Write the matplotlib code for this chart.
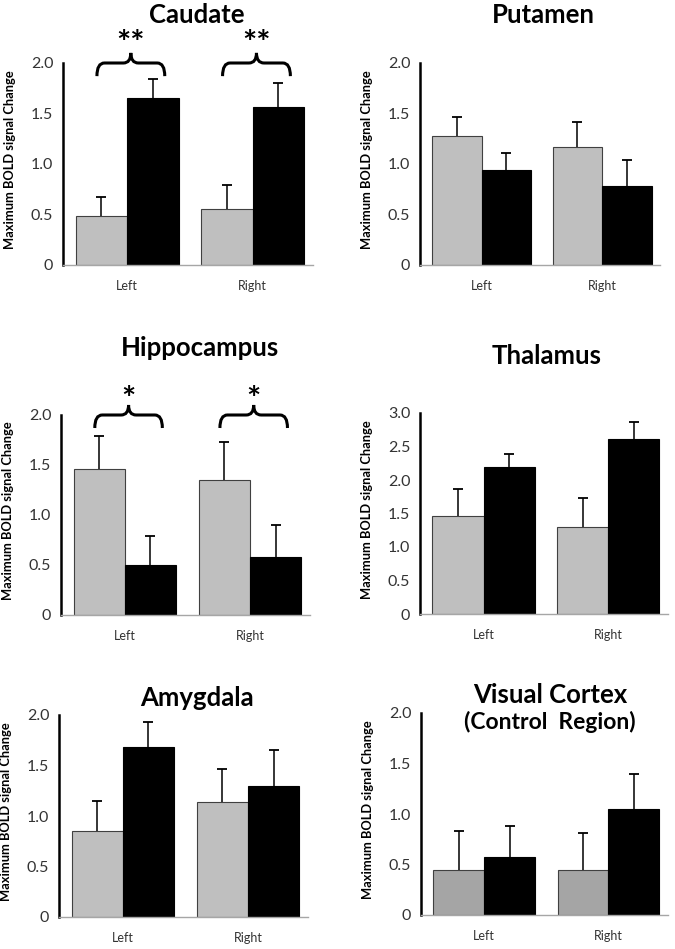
import numpy as np
import matplotlib
matplotlib.use("Agg")
import matplotlib.pyplot as plt
from matplotlib.path import Path
from matplotlib.patches import PathPatch

plt.rcParams['font.family'] = ['Lato', 'DejaVu Sans']

# data
regions = ["Caudate", "Putamen", "Hippocampus", "Thalamus", "Amygdala", "Visual Cortex"]
sides = ["Left", "Right"]
gray_means = [[0.49, 0.55], [1.28, 1.17], [1.46, 1.35], [1.46, 1.30], [0.85, 1.14], [0.45, 0.45]]
gray_errs = [[0.18, 0.245], [0.19, 0.25], [0.33, 0.38], [0.41, 0.43], [0.30, 0.33], [0.38, 0.36]]
black_means = [[1.65, 1.56], [0.94, 0.78], [0.50, 0.58], [2.19, 2.61], [1.68, 1.30], [0.57, 1.05]]
black_errs = [[0.19, 0.24], [0.17, 0.26], [0.29, 0.32], [0.20, 0.26], [0.25, 0.35], [0.31, 0.35]]
y_max = [2.0, 2.0, 2.0, 3.0, 2.0, 2.0]
stars = ["**", "", "*", "", "", ""]
star_y = [2.18, None, 2.14, None, None, None]

# layout in pixels: axis left, right, top, bottom; title x, y
W, H = 675, 949
boxes = [(63, 313, 63, 265), (420, 660, 63, 265), (61, 310, 415, 615),
         (420, 668, 413, 614), (59, 308, 715, 917), (421, 668, 713, 915)]
title_pos = [(197, 15), (543, 15), (200, 348), (547, 356), (197, 698), (550, 695)]
gray_colors = ["#bfbfbf"] * 5 + ["#a5a5a5"]


def brace(ax, xc, half, ylow, ymid, ytop, r=0.06):
    verts = [(xc - half, ylow), (xc - half, ymid), (xc - half + r, ymid),
             (xc - r, ymid), (xc, ymid), (xc, ytop),
             (xc, ymid), (xc + r, ymid),
             (xc + half - r, ymid), (xc + half, ymid), (xc + half, ylow)]
    codes = [Path.MOVETO, Path.CURVE3, Path.CURVE3,
             Path.LINETO, Path.CURVE3, Path.CURVE3,
             Path.CURVE3, Path.CURVE3,
             Path.LINETO, Path.CURVE3, Path.CURVE3]
    ax.add_patch(PathPatch(Path(verts, codes), fill=False, lw=2.2,
                           color="black", clip_on=False))


def up_errors(ax, xs, means, errs):
    tops = np.array(means) + np.array(errs)
    ax.vlines(xs, means, tops, color="black", lw=1.1, zorder=3)
    ax.plot(xs, tops, ls="none", marker="_", ms=7, mew=1.3, color="black", zorder=3)


fig = plt.figure(figsize=(W / 100, H / 100), dpi=100)
x = np.arange(len(sides))
w = 0.41

for i, name in enumerate(regions):
    l, r, t, b = boxes[i]
    ax = fig.add_axes([l / W, 1 - b / H, (r - l) / W, (b - t) / H])
    ax.bar(x - w / 2, gray_means[i], w, color=gray_colors[i], edgecolor="#404040", lw=0.8)
    ax.bar(x + w / 2, black_means[i], w, color="black", edgecolor="black", lw=0.8)
    up_errors(ax, x - w / 2, gray_means[i], gray_errs[i])
    up_errors(ax, x + w / 2, black_means[i], black_errs[i])
    ax.set_xlim(-0.51, 1.48)
    ax.set_ylim(0, y_max[i])
    ticks = np.arange(0, y_max[i] + 0.01, 0.5)
    ax.set_yticks(ticks)
    ax.set_yticklabels(["0"] + ["%.1f" % v for v in ticks[1:]])
    ax.set_xticks(x)
    ax.set_xticklabels(sides)
    ax.tick_params(axis="y", length=0, pad=7, labelsize=11.5, labelcolor="#333333")
    ax.tick_params(axis="x", length=0, pad=11, labelsize=9, labelcolor="#333333")
    for s in ["top", "right"]:
        ax.spines[s].set_visible(False)
    ax.spines["left"].set_linewidth(1.8)
    ax.spines["left"].set_color("black")
    ax.spines["bottom"].set_linewidth(1.0)
    ax.spines["bottom"].set_color("#a6a6a6")
    ax.set_ylabel("Maximum BOLD signal Change", fontsize=9.3, fontweight="bold")
    ax.yaxis.set_label_coords(-47 / (r - l), 0.52)

    if stars[i]:
        for g in x:
            brace(ax, g + 0.03, 0.27, 1.87, 2.0, 2.1)
            ax.text(g + 0.03, star_y[i], stars[i], ha="center", va="center",
                    fontsize=24, fontweight="bold", clip_on=False)

    tx, ty = title_pos[i]
    fig.text(tx / W, 1 - ty / H, name, ha="center", va="center",
             fontsize=18.5, fontweight="bold")

fig.text(550 / W, 1 - 722 / H, "(Control  Region)", ha="center", va="center",
         fontsize=16.5, fontweight="bold")

fig.savefig("out.png", dpi=100)
